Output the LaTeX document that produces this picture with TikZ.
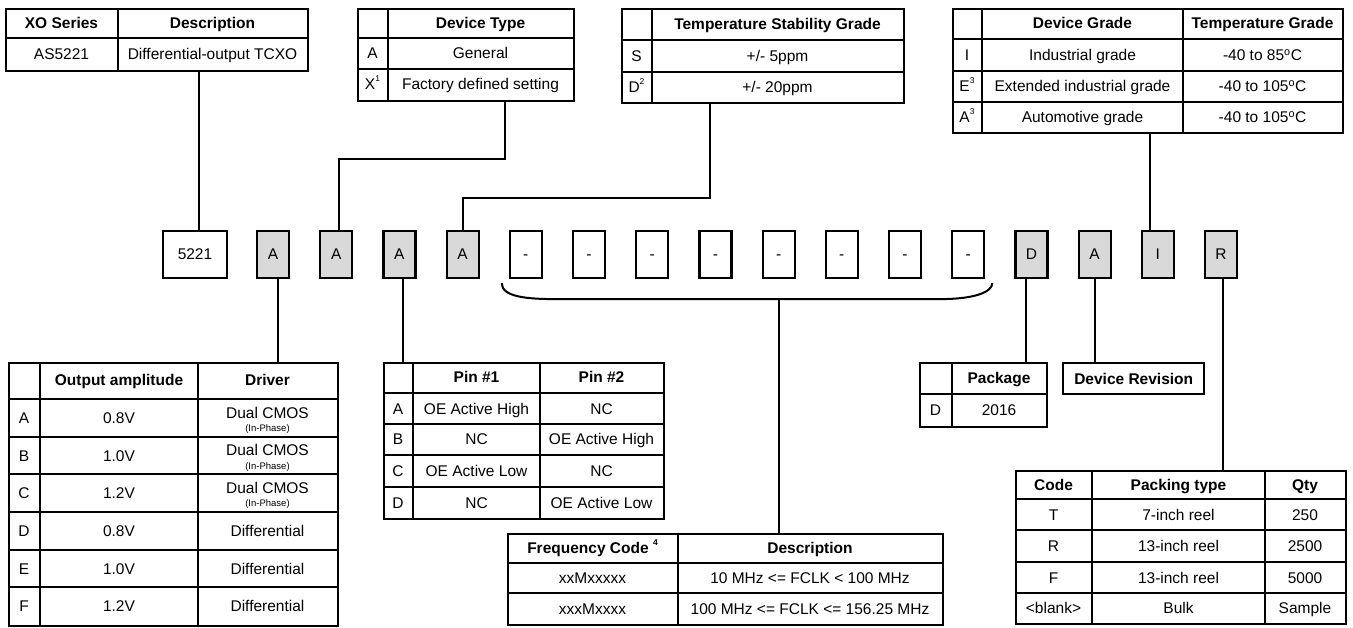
\documentclass[tikz,border=0pt]{standalone}
\usepackage{fontspec}
\setmainfont{Liberation Sans}
\usetikzlibrary{calc}

\definecolor{selgray}{HTML}{D9D9D9}
\newcommand{\tabfont}{\fontsize{15.5}{17}\selectfont}
\newcommand{\supn}[1]{\raisebox{1.0ex}{\fontsize{8.5}{8.5}\selectfont #1}}
\newcommand{\degc}{\textsuperscript{o}C}

\tikzset{
  frame/.style={draw, line width=2.4pt, inner sep=0pt, anchor=north west},
  grid/.style={line width=2.4pt},
  codebox/.style={draw, line width=2.2pt, minimum width=32pt, minimum height=47pt, inner sep=0pt},
  sel/.style={fill=selgray},
  conn/.style={line width=2pt},
  hd/.style={font=\tabfont\bfseries},
  tiny/.style={font=\fontsize{9.5}{10}\selectfont, text height=6.5pt},
}

\begin{document}
\begin{tikzpicture}[x=1pt, y=-1pt, font=\tabfont,
		every node/.append style={text height=11pt, text depth=0pt}]
		\useasboundingbox (0,0) rectangle (1353,628);

		% XO series
		\node[frame, minimum width=302pt, minimum height=62pt] (xo) at (5,8) {};
		\draw[grid] (118,8) -- (118,70);
		\draw[grid] (5,38) -- (307,38);
		\node[hd] (xo-h1) at (61.5,23) {XO Series};
		\node[hd] (xo-h2) at (212.5,23) {Description};
		\node (xo-k) at (61.5,54) {AS5221};
		\node (xo-d) at (212.5,54) {Differential-output TCXO};

		% device type
		\node[frame, minimum width=216pt, minimum height=92pt] (dt) at (357,8) {};
		\draw[grid] (388,8) -- (388,100);
		\foreach \y in {38, 69}{
				\draw[grid] (357,\y) -- (573,\y);
			}
		\node[hd] (dt-h) at (480.5,23) {Device Type};
		\node (dt-k1) at (372.5,53.5) {A};
		\node (dt-d1) at (480.5,53.5) {General};
		\node (dt-k2) at (372.5,84.5) {X\supn{1}};
		\node (dt-d2) at (480.5,84.5) {Factory defined setting};

		% temperature stability
		\node[frame, minimum width=282pt, minimum height=94pt] (ts) at (621,8) {};
		\draw[grid] (652,8) -- (652,102);
		\foreach \y in {40, 72}{
				\draw[grid] (621,\y) -- (903,\y);
			}
		\node[hd] (ts-h) at (777.5,24) {Temperature Stability Grade};
		\node (ts-k1) at (636.5,56) {S};
		\node (ts-d1) at (777.5,56) {+/- 5ppm};
		\node (ts-k2) at (636.5,87) {D\supn{2}};
		\node (ts-d2) at (777.5,87) {+/- 20ppm};

		% device grade
		\node[frame, minimum width=390pt, minimum height=124pt] (dg) at (952,8) {};
		\foreach \x in {982, 1183}{
				\draw[grid] (\x,8) -- (\x,132);
			}
		\foreach \y in {39, 71, 102}{
				\draw[grid] (952,\y) -- (1342,\y);
			}
		\node[hd] (dg-h1) at (1082.5,23.5) {Device Grade};
		\node[hd] (dg-h2) at (1262.5,23.5) {Temperature Grade};
		\foreach \y/\k/\g/\t [count=\n] in {55/I/Industrial grade/85, 86.5/{E\supn{3}}/Extended industrial grade/105, 117/{A\supn{3}}/Automotive grade/105}{
				\node (dg-k\n) at (967,\y) {\k};
				\node (dg-g\n) at (1082.5,\y) {\g};
				\node (dg-t\n) at (1262.5,\y) {-40 to \t\degc};
			}

		% part number boxes
		\node[codebox, minimum width=64pt] (c1) at (195,254.5) {5221};
		\foreach \i/\t/\s in {2/A/sel, 3/A/sel, 4/A/sel, 5/A/sel, 6/-/, 7/-/, 8/-/, 9/-/, 10/-/, 11/-/, 12/-/, 13/-/, 14/D/sel, 15/A/sel, 16/I/sel, 17/R/sel}{
				\node[codebox, \s] (c\i) at ({273+63.2*(\i-2)},254.5) {\t};
			}

		% brace under the frequency digits
		\coordinate (bl) at ([shift={(-7,4)}]c6.south west);
		\coordinate (br) at ([shift={(7,4)}]c13.south east);
		\coordinate (bm) at ([shift={(0,20)}]c10.south);
		\draw[conn] (bl) .. controls ([yshift=-14pt]bl) and ([xshift=26pt]bl |- bm) .. ([xshift=54pt]bl |- bm)
			-- ([xshift=-52pt]br |- bm) .. controls ([xshift=-18pt]br |- bm) and ([yshift=-9pt]br) .. (br);

		% output amplitude / driver
		\node[frame, minimum width=329pt, minimum height=263pt] (amp) at (8,362) {};
		\foreach \x in {40, 198}{
				\draw[grid] (\x,362) -- (\x,625);
			}
		\foreach \y in {399, 437, 474, 512, 550, 587}{
				\draw[grid] (8,\y) -- (337,\y);
			}
		\node[hd] (amp-h1) at (119,380.5) {Output amplitude};
		\node[hd] (amp-h2) at (267.5,380.5) {Driver};
		\foreach \y/\k/\v [count=\n] in {399/A/0.8V, 437/B/1.0V, 474/C/1.2V}{
				\node (amp-k\n) at (24,\y+19) {\k};
				\node (amp-v\n) at (119,\y+19) {\v};
				\node[anchor=base] (amp-d\n) at (267.5,\y+19) {Dual CMOS};
				\node[tiny, anchor=base] (amp-p\n) at (267.5,\y+32.5) {(In-Phase)};
			}
		\foreach \y/\k/\v [count=\n] in {531/D/0.8V, 568.5/E/1.0V, 606/F/1.2V}{
				\node (amp-kk\n) at (24,\y) {\k};
				\node (amp-vv\n) at (119,\y) {\v};
				\node (amp-dd\n) at (267.5,\y) {Differential};
			}

		% pin function
		\node[frame, minimum width=280pt, minimum height=156pt] (pin) at (383,362) {};
		\foreach \x in {413, 540}{
				\draw[grid] (\x,362) -- (\x,518);
			}
		\foreach \y in {393, 424, 455, 487}{
				\draw[grid] (383,\y) -- (663,\y);
			}
		\node[hd] (pin-h1) at (476.5,377.5) {Pin \#1};
		\node[hd] (pin-h2) at (601.5,377.5) {Pin \#2};
		\foreach \y/\k/\a/\b [count=\n] in {408.5/A/OE Active High/NC, 439.5/B/NC/OE Active High, 471/C/OE Active Low/NC, 502.5/D/NC/OE Active Low}{
				\node (pin-k\n) at (398,\y) {\k};
				\node (pin-a\n) at (476.5,\y) {\a};
				\node (pin-b\n) at (601.5,\y) {\b};
			}

		% package
		\node[frame, minimum width=127pt, minimum height=64pt] (pkg) at (919,362) {};
		\draw[grid] (952,362) -- (952,426);
		\draw[grid] (919,394) -- (1046,394);
		\node[hd] (pkg-h) at (999,378) {Package};
		\node (pkg-k) at (935.5,410) {D};
		\node (pkg-d) at (999,410) {2016};

		% device revision
		\node[frame, hd, minimum width=141pt, minimum height=31pt] (rev) at (1062,362) {Device Revision};

		% packing
		\node[frame, minimum width=330pt, minimum height=153pt] (pack) at (1015,470) {};
		\foreach \x in {1092, 1265}{
				\draw[grid] (\x,470) -- (\x,623);
			}
		\foreach \y in {499, 530, 562, 593}{
				\draw[grid] (1015,\y) -- (1345,\y);
			}
		\node[hd] (pack-h1) at (1053.5,484.5) {Code};
		\node[hd] (pack-h2) at (1178.5,484.5) {Packing type};
		\node[hd] (pack-h3) at (1305,484.5) {Qty};
		\foreach \y/\k/\p/\q [count=\n] in {514.5/T/7-inch reel/250, 546/R/13-inch reel/2500, 577.5/F/13-inch reel/5000, 608/<blank>/Bulk/Sample}{
				\node (pack-k\n) at (1053.5,\y) {\k};
				\node (pack-p\n) at (1178.5,\y) {\p};
				\node (pack-q\n) at (1305,\y) {\q};
			}

		% frequency code
		\node[frame, minimum width=435pt, minimum height=91pt] (fq) at (507,533) {};
		\draw[grid] (678,533) -- (678,624);
		\foreach \y in {563, 593}{
				\draw[grid] (507,\y) -- (942,\y);
			}
		\node[hd] (fq-h1) at (592.5,548) {Frequency Code \supn{4}};
		\node[hd] (fq-h2) at (810,548) {Description};
		\node (fq-k1) at (592.5,578) {xxMxxxxx};
		\node (fq-d1) at (810,578) {10 MHz <= FCLK < 100 MHz};
		\node (fq-k2) at (592.5,608.5) {xxxMxxxx};
		\node (fq-d2) at (810,608.5) {100 MHz <= FCLK <= 156.25 MHz};

		% connectors
		\draw[conn] ([xshift=4pt]c1.north) -- ([xshift=4pt]c1.north |- xo.south);
		\draw[conn] ([xshift=39pt]dt.south) -- ++(0,57) -| ([xshift=3pt]c3.north);
		\draw[conn] ([xshift=-53pt]ts.south) -- ++(0,94) -| (c5.north);
		\draw[conn] ([xshift=-8pt]c16.north) -- ([xshift=-8pt]c16.north |- dg.south);
		\draw[conn] ([xshift=5pt]c2.south) -- ([xshift=5pt]c2.south |- amp.north);
		\draw[conn] ([xshift=4pt]c4.south) -- ([xshift=4pt]c4.south |- pin.north);
		\draw[conn] (bm) -- (bm |- fq.north);
		\draw[conn] ([xshift=-5pt]c14.south) -- ([xshift=-5pt]c14.south |- pkg.north);
		\draw[conn] (c15.south) -- (c15.south |- rev.north);
		\draw[conn] ([xshift=2pt]c17.south) -- ([xshift=2pt]c17.south |- pack.north);
	\end{tikzpicture}
\end{document}
